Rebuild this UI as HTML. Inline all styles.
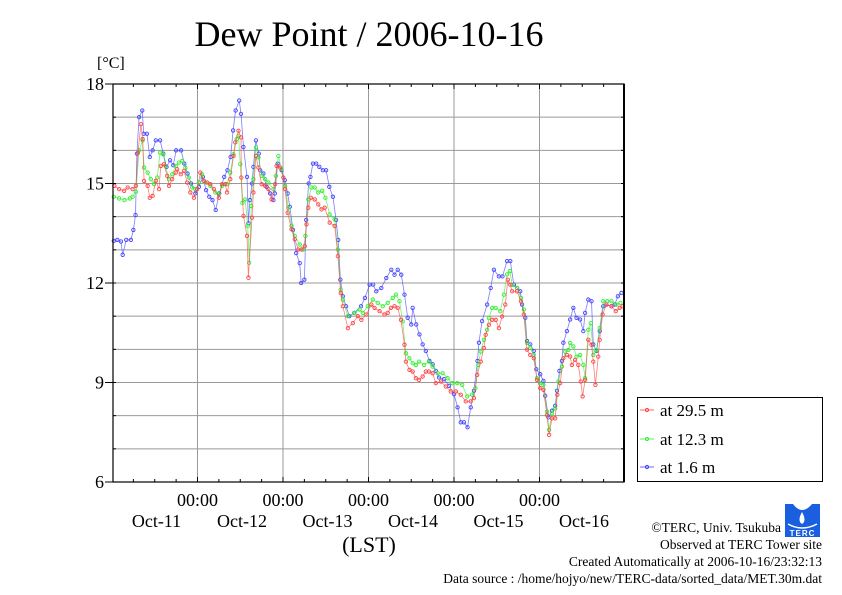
<!DOCTYPE html>
<html><head><meta charset="utf-8"><style>
body{margin:0;background:#fff}
svg{display:block;font-family:"Liberation Serif",serif}
</style></head><body>
<svg id="chart" width="842" height="595" viewBox="0 0 842 595">
<text x="369" y="46" font-size="36" text-anchor="middle">Dew Point / 2006-10-16</text>
<text x="97" y="68" font-size="16">[°C]</text>
<g id="grid"></g>
<g id="series"></g>
<g id="axes"></g>
<text x="369" y="552" font-size="22" text-anchor="middle">(LST)</text>
<g>
<rect x="637.5" y="397.5" width="185" height="84" fill="#fff" stroke="#000" stroke-width="1"/>
<g><line x1="640" y1="410" x2="654" y2="410" stroke="#f44" stroke-width="0.8"/><circle cx="647" cy="410" r="1.6" fill="none" stroke="#f44"/><text x="660" y="416" font-size="17">at 29.5 m</text></g>
<g><line x1="640" y1="439" x2="654" y2="439" stroke="#3e3" stroke-width="0.8"/><circle cx="647" cy="439" r="1.6" fill="none" stroke="#3e3"/><text x="660" y="445" font-size="17">at 12.3 m</text></g>
<g><line x1="640" y1="467" x2="654" y2="467" stroke="#44f" stroke-width="0.8"/><circle cx="647" cy="467" r="1.6" fill="none" stroke="#44f"/><text x="660" y="473" font-size="17">at 1.6 m</text></g>
</g>
<g>
<path d="M785 504 L820 504 L820 537 L785 537 Z" fill="#1a5fe0"/>
<path d="M793 504 Q802 516 812 504 Z" fill="#fff"/>
<path d="M802 512 Q797 521 802 524 Q807 521 802 512 Z" fill="#fff"/>
<path d="M788 524 Q802 532 817 524" stroke="#fff" stroke-width="1.5" fill="none"/>
<text x="802.5" y="536" font-size="8" fill="#fff" text-anchor="middle" font-family="Liberation Sans,sans-serif" font-weight="bold" letter-spacing="1">TERC</text>
</g>
<g font-size="13.5" text-anchor="end">
<text x="781" y="532">©TERC, Univ. Tsukuba</text>
<text x="822" y="549">Observed at TERC Tower site</text>
<text x="822" y="566">Created Automatically at 2006-10-16/23:32:13</text>
<text x="822" y="583">Data source : /home/hojyo/new/TERC-data/sorted_data/MET.30m.dat</text>
</g>
</svg>
<script>
const yTicks=[18,15,12,9,6];
const dayLabels=["Oct-11","Oct-12","Oct-13","Oct-14","Oct-15","Oct-16"];
const hoursRed=[0.65,2,3.4,4.4,5.8,6.7,7.3,8.1,8.6,9,10,10.6,11.4,12.3,13.2,13.7,14.6,15.5,16,16.9,17.9,18.3,19.3,20.2,21.1,22,23,23.9,24.8,25.8,26.7,27.6,28.6,30,30.9,31.8,32.3,33.2,34.1,34.6,35.5,36.2,36.3,36.9,37.9,38.3,39.3,39.7,40.4,41.1,42,43,43.9,44.8,45.8,46.2,47.2,48.1,48.6,49.3,50.4,51.3,52.3,53.2,54.1,54.6,55.1,55.8,56.9,57.9,58.8,59.7,61.1,62.5,63.4,64.2,64.8,66.2,67.6,69,70,71.4,72.8,73.7,75.1,76.5,77.4,78.3,79.3,80.2,81.1,82.1,82.5,83.5,84.4,85.3,86.2,87.2,88.1,89,90,90.9,92.3,93.7,95.1,96.5,97.9,99.3,100.7,101.6,102.5,103.5,104.4,104.9,105.8,106.7,107.7,108.6,109.5,110.4,111.1,111.8,112.3,113.7,114.8,115.6,116.5,117.4,118.4,119.3,120.2,121.1,122.1,122.7,123.5,124.4,125,125.8,126.7,127.7,128.6,129.1,130,130.9,131.6,132.1,132.8,133.7,134.6,135.1,135.7,136.5,136.9,137.7,138.8,140.2,141.4,142.5,143.3];
const red=[14.93,14.83,14.78,14.88,14.83,14.93,15.93,16.79,16.34,15.08,14.93,14.57,14.63,15.08,14.83,15.53,15.58,15.23,14.93,15.13,15.33,15.43,15.28,15.38,15.03,14.73,14.57,14.83,15.33,15.08,15.03,14.98,14.83,14.57,14.98,14.98,14.73,15.13,15.83,16.24,16.59,16.39,15.18,14.02,13.42,12.16,13.97,14.73,15.83,15.48,14.98,14.93,14.83,14.52,14.98,15.53,15.48,15.18,14.83,14.12,13.62,13.32,13.01,13.01,13.11,13.77,14.27,14.57,14.52,14.37,14.22,14.27,13.82,13.72,12.81,11.70,11.30,10.64,10.79,11.00,10.89,11.05,11.35,11.25,11.15,11.05,11.1,11.25,11.3,11.25,10.89,10.14,9.63,9.38,9.33,9.13,9.08,9.18,9.33,9.33,9.28,8.98,9.03,8.88,8.73,8.73,8.63,8.43,8.43,8.53,9.23,9.63,10.04,10.44,10.74,10.89,10.89,10.64,10.99,11.35,12.1,11.95,11.75,11.75,11.45,11.05,9.99,9.83,9.73,9.08,8.83,8.78,8.02,7.42,7.92,7.92,8.63,8.98,9.73,9.83,9.78,9.53,9.68,9.53,9.03,8.58,9.08,10.29,10.14,9.63,8.93,9.78,10.29,11.05,11.35,11.3,11.15,11.25,11.3];
const hoursGreen=[0.5,2,3.5,5,5.8,6.7,7.6,8.6,9,10,10.9,11.8,12.7,13.5,14.4,15,16,16.9,17.9,18.8,19.7,20.6,21.6,22.5,23.4,24.4,25.3,26.2,27.6,29,30,30.9,32.3,33.2,34.1,35,35.5,36,36.6,37.4,38.1,38.5,39.1,39.7,40.4,41.1,42,43,43.9,45.3,46,46.7,47.6,48.6,49.5,50.4,51.3,52.7,53.7,54.3,55.1,56,56.9,57.9,59,59.9,61.1,62.5,63.4,64.2,64.8,66.2,68.1,69.5,70.4,71.8,73.2,74.6,76,77.4,78.8,79.7,80.7,81.6,82.5,83.5,84.4,85.3,86.2,87.6,89,90,91.4,92.8,94.2,95.5,96.9,98.3,99.7,101.1,102,102.8,103.5,104.4,105.3,105.8,106.7,107.7,109,110,110.9,111.7,112.3,113.7,114.8,115.6,116.5,117.4,118.4,119.3,120.2,121.1,122.1,122.7,123.5,124.4,125.3,126.3,127.2,128.1,128.6,129.5,130.4,131.4,132.3,132.8,133.7,134.4,135.1,136,136.9,137.9,139,140.2,141.6,142.7];
const green=[14.6,14.55,14.5,14.55,14.6,14.75,16.0,16.3,15.48,15.33,15.13,14.98,15.18,15.93,15.88,15.53,15.13,15.28,15.53,15.63,15.68,15.48,15.18,14.88,14.83,15.03,15.28,15.03,14.93,14.73,14.68,14.93,14.98,15.33,15.88,16.34,16.44,15.58,14.42,14.52,13.72,12.61,14.32,15.13,16.09,15.79,15.23,15.13,15.03,14.83,15.23,15.83,15.43,14.93,14.27,13.72,13.42,13.16,13.01,13.42,14.52,14.88,14.88,14.73,14.78,14.57,14.07,13.92,13.01,11.80,11.50,11.00,11.1,11.2,11.1,11.3,11.5,11.4,11.3,11.4,11.55,11.65,11.45,10.84,9.88,9.73,9.58,9.53,9.63,9.53,9.63,9.48,9.28,9.28,9.13,8.98,8.98,8.93,8.58,8.63,8.83,9.53,9.93,10.29,10.59,10.94,11.25,11.25,11.15,11.65,12.26,12.36,11.95,11.85,11.55,11.2,10.19,10.04,9.83,9.13,8.98,8.93,8.12,7.57,8.07,8.22,9.03,9.48,9.93,9.98,10.19,10.09,9.78,9.83,9.53,9.13,10.59,10.79,9.83,9.98,10.64,11.45,11.45,11.45,11.35,11.4];
const hoursBlue=[0.5,1.5,2.5,3,4,5.3,6,6.6,7,7.6,8.5,8.9,9.8,10.6,11.4,12.3,13.5,14.4,15.3,16.3,17.2,18,19.4,20.3,21.2,22.2,23.4,24.4,25.5,26.4,27.3,28.2,29.1,30.1,31.5,32.4,33.3,34,34.7,35.7,36.2,36.9,37.9,38.3,38.7,39.3,39.7,40.4,41.2,41.6,42.5,43.4,44.4,45.3,45.7,46.5,47.6,48.5,49.3,49.9,50.8,51.7,52.7,53.1,54,54.5,55.2,55.7,56.4,57.3,58.2,59.2,60.1,61,62,62.9,63.5,64.1,64.8,65.7,66.6,68,69.9,71,72.3,73.3,74.2,75.6,77,78.4,79.3,80.2,81.2,82.1,83,84,84.4,85.4,86.3,87.2,88.1,89.1,90,90.9,91.8,93.2,94.6,96,97,97.9,98.8,99.8,100.7,101.6,102.6,103,103.9,105.3,106.3,107.2,108.6,109.6,110.9,111.8,112.8,113.7,114.6,115.1,116,116.5,117.4,118.4,119.1,120.2,121.1,121.6,122.5,123.5,124.4,124.9,125.6,126.3,126.7,127.7,128.6,129.5,130.4,131.4,132.3,132.8,133.7,134.6,135.1,136,136.9,137.9,138.8,140.2,141.1,142,143];
const blue=[13.27,13.3,13.25,12.85,13.3,13.3,13.6,14.05,15.9,17.0,17.2,16.5,16.5,15.8,16.0,16.3,16.3,15.9,15.5,15.7,15.55,16.0,16.0,15.6,15.3,15.0,14.7,14.9,15.2,14.8,14.6,14.5,14.2,14.7,15.2,15.4,15.8,16.6,17.2,17.5,17.1,16.1,15.2,13.8,14.5,15.0,15.5,16.3,15.9,15.4,15.3,14.9,14.7,14.5,14.7,15.6,15.4,15.1,14.7,14.3,13.6,12.9,12.6,12.0,12.1,13.9,15.0,15.2,15.6,15.6,15.5,15.4,15.4,14.9,14.6,13.9,13.3,12.1,11.6,11.3,11.0,11.1,11.3,11.55,11.95,11.95,11.75,11.85,12.15,12.4,12.25,12.4,12.25,11.65,10.95,10.75,11.25,10.75,10.45,10.15,9.95,9.65,9.55,9.35,9.15,9.1,8.9,8.65,8.25,7.8,7.8,7.65,8.25,8.75,9.65,10.2,10.85,11.35,11.85,12.4,12.2,12.2,12.66,12.66,11.95,11.85,11.75,11.35,10.95,10.25,10.15,9.95,9.4,9.25,9.05,8.6,7.95,8.15,8.3,8.75,9.35,9.65,10.2,10.55,10.9,11.25,10.95,10.9,10.55,11.1,11.5,11.45,10.15,9.95,10.55,11.3,11.35,11.3,11.35,11.6,11.7];

const NS="http://www.w3.org/2000/svg";
const L=113,R=624,T=84,B=482;
const X0=112,PXH=85.5/24;
function xs(h){return X0+PXH*h;}
function ys(v){return T+(18-v)*(B-T)/12;}
function mk(tag,attrs,parent){const e=document.createElementNS(NS,tag);for(const k in attrs)e.setAttribute(k,attrs[k]);parent.appendChild(e);return e;}
const grid=document.getElementById('grid'),axes=document.getElementById('axes'),ser=document.getElementById('series');
for(let v=7;v<=17;v++){const l=mk('line',{x1:L,x2:R,y1:ys(v),y2:ys(v),stroke:'#999','stroke-width':1},grid);

}
for(let d=1;d<=5;d++){const l=mk('line',{x1:xs(d*24),x2:xs(d*24),y1:T,y2:B,stroke:'#999','stroke-width':1},grid);

}
function drawSeries(hs,vals,col,name){
 const g=mk('g',{},ser);
 
 
 let d='';hs.forEach((h,i)=>{d+=(i?'L':'M')+xs(h).toFixed(1)+' '+ys(vals[i]).toFixed(1);});
 const p=mk('path',{d:d,fill:'none',stroke:col,'stroke-width':0.8,'stroke-opacity':0.7},g);
 
 
 hs.forEach((h,i)=>{const c=mk('circle',{cx:xs(h),cy:ys(vals[i]),r:1.7,fill:'none',stroke:col,'stroke-width':0.9},g);
 
 });
}
drawSeries(hoursBlue,blue,'#44f','series-1-6m');
drawSeries(hoursGreen,green,'#3e3','series-12-3m');
drawSeries(hoursRed,red,'#f44','series-29-5m');
const fr=mk('rect',{x:L,y:T,width:R-L,height:B-T,fill:'none',stroke:'#000','stroke-width':1.2},axes);


mk('line',{x1:R,x2:R,y1:T,y2:B,stroke:'#000','stroke-width':2},axes);
for(let h=6;h<144;h+=6){const len=(h%24==0)?5:3;
 mk('line',{x1:xs(h),x2:xs(h),y1:T,y2:T+len,stroke:'#000','stroke-width':1},axes);
 mk('line',{x1:xs(h),x2:xs(h),y1:B,y2:B-len,stroke:'#000','stroke-width':1},axes);}
for(let v=6;v<=18;v++){mk('line',{x1:L-((v%3==0)?8:0),x2:L+3,y1:ys(v),y2:ys(v),stroke:'#000','stroke-width':1},axes);
 mk('line',{x1:R-3,x2:R,y1:ys(v),y2:ys(v),stroke:'#000','stroke-width':1},axes);}
yTicks.forEach(v=>{const t=mk('text',{x:104,y:ys(v)+6,'font-size':18,'text-anchor':'end'},axes);t.textContent=v;

});
dayLabels.forEach((lab,i)=>{const gx=xs((i+1)*24);
 if(i<5){const t=mk('text',{x:gx,y:506,'font-size':18,'text-anchor':'middle'},axes);t.textContent='00:00';
 
 }
 const t2=mk('text',{x:gx-41,y:527,'font-size':18,'text-anchor':'middle'},axes);t2.textContent=lab;
 
 });
</script>
</body></html>
